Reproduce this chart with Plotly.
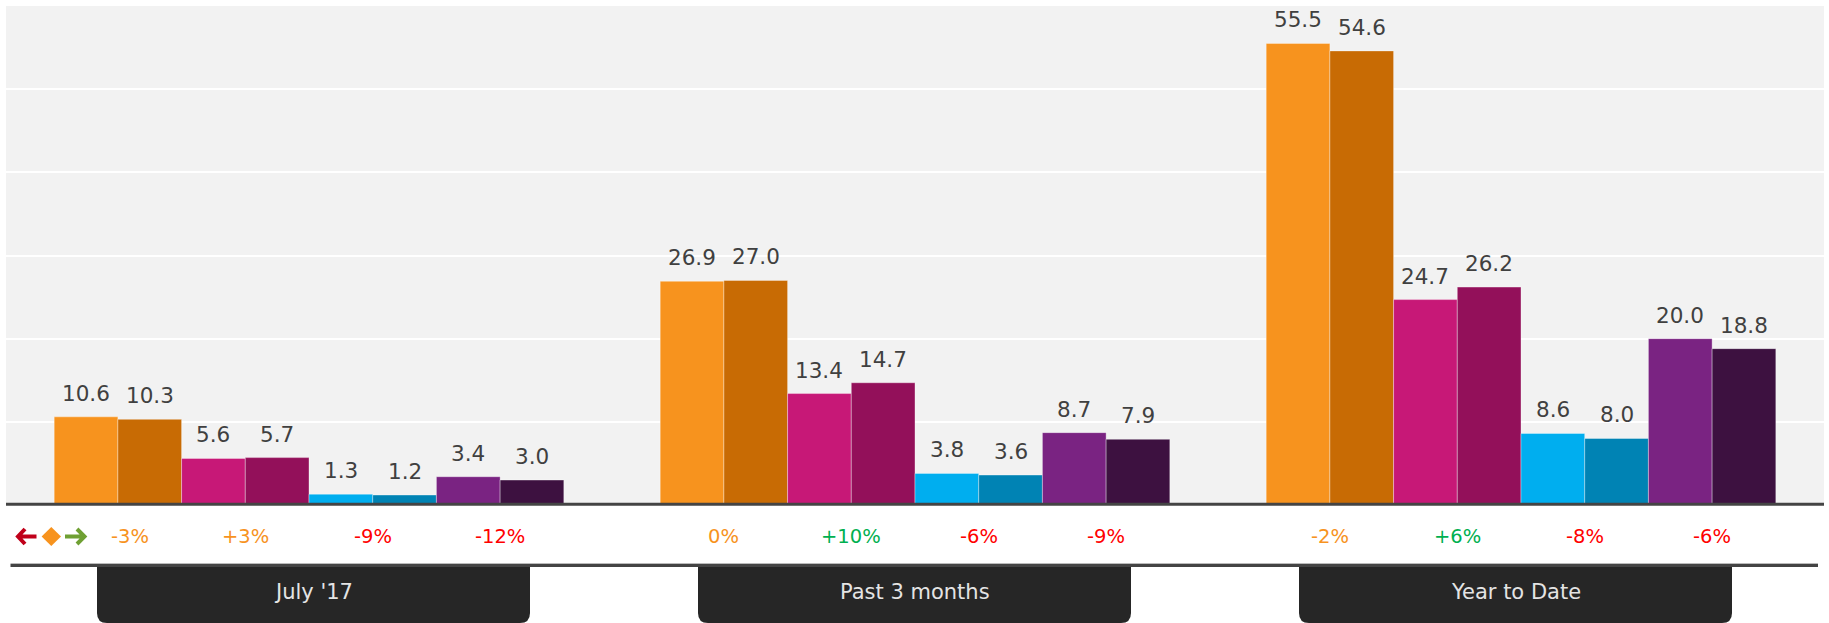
import plotly.graph_objects as go

# Categories (periods) and the series drawn for each one
categories = ["July '17", "Past 3 months", "Year to Date"]

series_names = [
    "Metric A (prior)", "Metric A (current)",
    "Metric B (prior)", "Metric B (current)",
    "Metric C (prior)", "Metric C (current)",
    "Metric D (prior)", "Metric D (current)",
]
series_values = [
    [10.6, 26.9, 55.5],
    [10.3, 27.0, 54.6],
    [5.6, 13.4, 24.7],
    [5.7, 14.7, 26.2],
    [1.3, 3.8, 8.6],
    [1.2, 3.6, 8.0],
    [3.4, 8.7, 20.0],
    [3.0, 7.9, 18.8],
]
series_colors = [
    "#F7931E", "#C86B04",
    "#C71877", "#93105A",
    "#00AEEF", "#0083B4",
    "#7A2382", "#3D1140",
]

# Change of current vs prior, per category (rows) and metric (columns)
pct_change = [
    [-3, 3, -9, -12],
    [0, 10, -6, -9],
    [-2, 6, -8, -6],
]

FONT = "DejaVu Sans"
W, H = 1829, 623
M_L, M_R, M_T, M_B = 6, 5, 6, 118
PW = W - M_L - M_R
PH = H - M_T - M_B
BARGAP = 0.159
Y_MAX = 60


def px(xp):
    return (xp - M_L) / PW


def py(yp):
    return (H - M_B - yp) / PH


fig = go.Figure()
for name, vals, col in zip(series_names, series_values, series_colors):
    fig.add_trace(go.Bar(
        x=list(range(len(categories))), y=vals, name=name,
        marker=dict(color=col, line=dict(color="rgba(255,255,255,0.35)", width=1)),
        hovertemplate="%{y}<extra>" + name + "</extra>",
    ))

n_series = len(series_names)
group_w = 1 - BARGAP
bar_w = group_w / n_series

annotations = []
# value labels above each bar
for k, vals in enumerate(series_values):
    for i, v in enumerate(vals):
        xc = i - group_w / 2 + (k + 0.5) * bar_w
        annotations.append(dict(
            x=xc, y=v, xref="x", yref="y", text=f"{v:.1f}",
            showarrow=False, yanchor="bottom", yshift=9,
            font=dict(family=FONT, size=21.5, color="#404040"),
        ))


def change_color(c):
    if c > 3:
        return "#00B050"
    if c < -3:
        return "#FF0000"
    return "#F7931E"


# change labels below the axis, one per pair of bars
for i, row in enumerate(pct_change):
    for j, c in enumerate(row):
        xc = i - group_w / 2 + (2 * j + 1) * bar_w
        txt = f"+{c}%" if c > 0 else f"{c}%"
        annotations.append(dict(
            x=xc, y=py(536.5), xref="x", yref="paper", text=txt,
            showarrow=False, yanchor="middle",
            xshift=12 if (i == 0 and j == 0) else 0,
            font=dict(family=FONT, size=19.5, color=change_color(c)),
        ))

shapes = []
# baseline under the bars
shapes.append(dict(type="line", xref="paper", yref="paper",
                   x0=px(6), x1=px(1824), y0=py(504.3), y1=py(504.3),
                   line=dict(color="#444444", width=3)))
# separator above the period tabs
shapes.append(dict(type="line", xref="paper", yref="paper",
                   x0=px(10.5), x1=px(1818), y0=py(563.5), y1=py(563.5),
                   line=dict(color="#BBBBBB", width=1)))
shapes.append(dict(type="line", xref="paper", yref="paper",
                   x0=px(10.5), x1=px(1818), y0=py(565.5), y1=py(565.5),
                   line=dict(color="#444444", width=3)))

# legend glyphs: down arrow, flat diamond, up arrow
shapes.append(dict(type="path", xref="paper", yref="paper",
                   path=(f"M {px(25)},{py(529)} L {px(18)},{py(536.5)} L {px(25)},{py(544)} "
                         f"M {px(18)},{py(536.5)} L {px(36.5)},{py(536.5)}"),
                   line=dict(color="#C0001A", width=4)))
shapes.append(dict(type="path", xref="paper", yref="paper",
                   path=(f"M {px(51.3)},{py(527)} L {px(61)},{py(536.5)} L {px(51.3)},{py(546)} "
                         f"L {px(41.6)},{py(536.5)} Z"),
                   fillcolor="#F7931E", line=dict(width=0)))
shapes.append(dict(type="path", xref="paper", yref="paper",
                   path=(f"M {px(77)},{py(529)} L {px(84.5)},{py(536.5)} L {px(77)},{py(544)} "
                         f"M {px(84.5)},{py(536.5)} L {px(65)},{py(536.5)}"),
                   line=dict(color="#6FA033", width=4)))

# period tabs with rounded bottom corners
TAB_W, TAB_R = 433, 10
for i, cat in enumerate(categories):
    cx = 313.5 + 601 * i
    x0, x1 = cx - TAB_W / 2, cx + TAB_W / 2
    y0, y1 = 567, 623
    path = (f"M {px(x0)},{py(y0)} L {px(x1)},{py(y0)} L {px(x1)},{py(y1 - TAB_R)} "
            f"Q {px(x1)},{py(y1)} {px(x1 - TAB_R)},{py(y1)} "
            f"L {px(x0 + TAB_R)},{py(y1)} Q {px(x0)},{py(y1)} {px(x0)},{py(y1 - TAB_R)} Z")
    shapes.append(dict(type="path", xref="paper", yref="paper", path=path,
                       fillcolor="#262626", line=dict(width=0), layer="above"))
    annotations.append(dict(
        x=px(cx), y=py(592), xref="paper", yref="paper", text=cat,
        showarrow=False, yanchor="middle", xanchor="center",
        font=dict(family=FONT, size=21, color="#E4E4E4"),
    ))

fig.update_layout(
    width=W, height=H,
    margin=dict(l=M_L, r=M_R, t=M_T, b=M_B),
    paper_bgcolor="#FFFFFF", plot_bgcolor="#F2F2F2",
    barmode="group", bargap=BARGAP, bargroupgap=0,
    showlegend=False,
    xaxis=dict(range=[-0.5, len(categories) - 0.5], showticklabels=False,
               showgrid=False, zeroline=False, fixedrange=True),
    yaxis=dict(range=[0, Y_MAX], dtick=10, showticklabels=False,
               gridcolor="#FFFFFF", gridwidth=2, zeroline=False, fixedrange=True),
    shapes=shapes, annotations=annotations,
    font=dict(family=FONT),
)

fig.write_html("out.html", config={"displayModeBar": False})
